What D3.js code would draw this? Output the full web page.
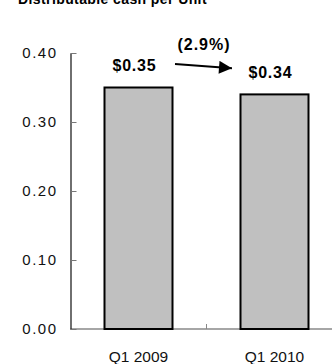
<!DOCTYPE html>
<html>
<head>
<meta charset="utf-8">
<script src="https://cdn.jsdelivr.net/npm/d3@7"></script>
<style>
  body { margin: 0; background: #fff; }
  svg { display: block; font-family: "Liberation Sans", Arial, sans-serif; }
</style>
</head>
<body>
<svg id="chart" width="332" height="364"></svg>
<script>
'use strict';

const title = 'Distributable cash per Unit';
const periods = ['Q1 2009', 'Q1 2010'];
const cashPerUnit = [0.35, 0.34];
const valueLabels = ['$0.35', '$0.34'];
const changeLabel = '(2.9%)';
const yTicks = [0, 0.1, 0.2, 0.3, 0.4];

const svg = d3.select('#chart');

const x = d3.scaleBand()
  .domain(periods)
  .range([70.5, 342.5])
  .paddingInner(0.5)
  .paddingOuter(0.25);

const y = d3.scaleLinear()
  .domain([0, 0.4])
  .range([329, 53]);

// title, mostly cut off at the top edge (as in the source image)
svg.append('text')
  .attr('x', 18)
  .attr('y', 4)
  .attr('font-size', 14)
  .attr('font-weight', 'bold')
  .attr('letter-spacing', 0.4)
  .text(title);

// x baseline + middle tick
svg.append('line')
  .attr('x1', 70.5).attr('x2', 332)
  .attr('y1', y(0)).attr('y2', y(0))
  .attr('stroke', '#888').attr('stroke-width', 1.5);

svg.append('line')
  .attr('x1', x(periods[1]) - x.step() * x.paddingInner() / 2)
  .attr('x2', x(periods[1]) - x.step() * x.paddingInner() / 2)
  .attr('y1', y(0)).attr('y2', y(0) - 5)
  .attr('stroke', '#888').attr('stroke-width', 1);

// y axis, ticks point inward
const yAxis = svg.append('g')
  .attr('transform', 'translate(70.5,0)')
  .call(d3.axisLeft(y)
    .tickValues(yTicks)
    .tickFormat(d3.format('.2f'))
    .tickSizeInner(-6)
    .tickSizeOuter(0)
    .tickPadding(13));

yAxis.select('.domain').attr('stroke', '#222').attr('stroke-width', 1.3);
yAxis.selectAll('.tick line').attr('stroke', '#777');
yAxis.selectAll('.tick text')
  .attr('font-size', 15)
  .attr('letter-spacing', 1.5)
  .attr('fill', '#111');

// bars
svg.selectAll('.bar')
  .data(cashPerUnit)
  .enter().append('rect')
  .classed('bar', true)
  .attr('x', (d, i) => x(periods[i]))
  .attr('y', d => y(d))
  .attr('width', x.bandwidth())
  .attr('height', d => y(0) - y(d))
  .attr('fill', '#c0c0c0')
  .attr('stroke', '#000')
  .attr('stroke-width', 2);

// value labels above bars
svg.selectAll('.value')
  .data(cashPerUnit)
  .enter().append('text')
  .classed('value', true)
  .attr('x', (d, i) => x(periods[i]) + x.bandwidth() / 2 - 4)
  .attr('y', d => y(d) - 16.5)
  .attr('text-anchor', 'middle')
  .attr('font-size', 16)
  .attr('font-weight', 'bold')
  .attr('letter-spacing', 0.8)
  .text((d, i) => valueLabels[i]);

// category labels
svg.selectAll('.cat')
  .data(periods)
  .enter().append('text')
  .classed('cat', true)
  .attr('x', d => x(d) + x.bandwidth() / 2)
  .attr('y', 362)
  .attr('text-anchor', 'middle')
  .attr('font-size', 15.5)
  .attr('fill', '#111')
  .text(d => d);

// change arrow between the two labels
svg.append('defs').append('marker')
  .attr('id', 'arrow-head')
  .attr('viewBox', '0 -5 10 10')
  .attr('refX', 10)
  .attr('markerUnits', 'userSpaceOnUse')
  .attr('markerWidth', 15)
  .attr('markerHeight', 13)
  .attr('orient', 'auto')
  .append('path')
  .attr('d', 'M0,-5L10,0L0,5Z')
  .attr('fill', '#000');

svg.append('line')
  .attr('x1', 175).attr('y1', 64)
  .attr('x2', 232).attr('y2', 68.3)
  .attr('stroke', '#000')
  .attr('stroke-width', 2)
  .attr('marker-end', 'url(#arrow-head)');

svg.append('text')
  .attr('x', 204)
  .attr('y', 50)
  .attr('text-anchor', 'middle')
  .attr('font-size', 16)
  .attr('font-weight', 'bold')
  .attr('letter-spacing', 1)
  .text(changeLabel);
</script>
</body>
</html>
